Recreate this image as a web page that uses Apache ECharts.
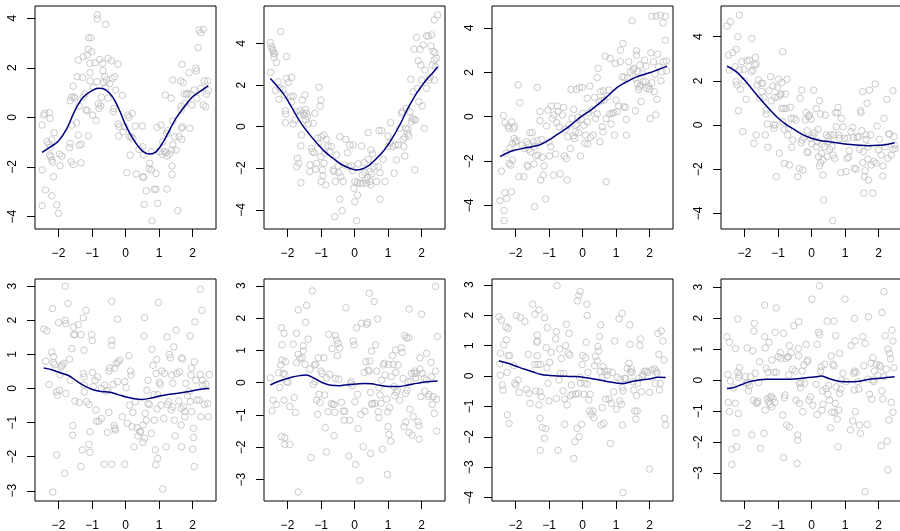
<!DOCTYPE html>
<html>
<head>
<meta charset="utf-8">
<script src="https://cdn.jsdelivr.net/npm/echarts@6/dist/echarts.min.js"></script>
<style>
html, body { margin: 0; padding: 0; background: #fff; }
#main { width: 900px; height: 531px; }
</style>
</head>
<body>
<div id="main"></div>
<script>
// observed points, one array per panel, [x, y]
var pts1 = [[-2.49,-0.31],[-2.44,0.09],[-2.41,0.16],[-2.27,0.19],[-2.25,-0.04],[-2.49,-2.12],[-2.49,-3.56],[-2.39,-2.93],[-2.34,-0.98],[-2.29,-1.08],[-2.24,-1.21],[-2.26,-1.52],[-2.23,-1.59],[-2.2,-1.72],[-2.17,-1.81],[-2.2,-0.91],[-2.15,-2.39],[-2.2,-3.16],[-2.05,-3.53],[-2.0,-3.87],[-2.13,-0.62],[-1.97,-1.48],[-1.95,-1.95],[-1.9,-1.56],
  [-1.65,0.67],[-1.61,0.81],[-1.56,1.26],[-1.54,0.83],[-1.51,0.77],[-1.6,-0.31],[-1.65,-1.05],[-1.67,-1.22],[-1.62,-1.79],[-1.56,-1.9],[-1.44,1.64],[-1.41,2.31],[-1.39,0.46],[-1.46,-0.22],[-1.41,-0.71],[-1.38,-1.12],[-1.31,-1.08],[-1.33,-1.83],[-1.26,2.45],[-1.28,1.61],[-1.26,0.83],[-1.21,0.94],[-1.18,0.3],[-1.14,0.27],[-1.11,-0.75],[-1.14,2.51],[-1.11,2.74],[-1.1,3.21],[-1.03,3.21],[-1.06,1.8],[-1.06,1.47],[-1.01,2.65],[-1.06,2.18],[-0.98,0.09],[-0.96,1.21],[-0.88,-0.13],[-0.91,2.2],[-0.84,4.13],[-0.84,3.97],[-0.85,1.44],[-0.81,0.54],[-0.77,2.34],[-0.79,0.36],[-0.74,0.46],[-0.72,0.81],[-0.68,2.18],[-0.67,1.88],[-0.65,1.4],[-0.62,1.64],[-0.59,3.75],[-0.59,1.21],[-0.57,1.51],[-0.52,2.38],[-0.52,0.77],[-0.47,1.37],[-0.42,2.28],[-0.39,1.57],[-0.37,0.23],[-0.35,0.36],[-0.32,1.64],[-0.29,1.1],[-0.22,2.15],[-0.22,-0.27],[-0.19,-0.38],[-0.2,-0.75],[-0.09,0.89],[-0.07,-0.58],[-0.02,-0.38],
  [0.04,-2.23],[0.07,0.09],[0.1,0],[0.12,-0.78],[0.14,-1.52],[0.17,-0.78],[0.2,0.16],[0.22,-0.85],[0.29,-0.35],[0.32,-2.28],[0.4,-1.29],[0.5,-0.35],[0.51,-1.18],[0.54,-1.52],[0.52,-2.39],[0.54,-2.42],[0.56,-3.51],[0.62,-2.96],[0.7,-2.06],[0.72,-1.85],[0.77,-2.12],[0.77,-1.38],[0.79,-4.17],[0.86,-2.9],[0.91,-2.9],[0.91,-2.26],[0.94,-0.4],[0.96,-3.47],[1.01,-1.38],[1.06,-0.31],[1.09,-1.48],[1.11,-0.98],[1.16,-1.38],[1.19,0.9],[1.21,-1.42],[1.24,-1.56],[1.23,-0.65],[1.25,-0.54],[1.24,-2.89],[1.31,-1.48],[1.36,0.77],[1.38,-1.32],[1.39,-1.96],[1.39,-2.3],[1.41,1.51],[1.41,-0.15],[1.41,-1.09],[1.46,-0.78],[1.51,-1.32],[1.56,-3.76],[1.6,-0.78],[1.65,1.47],[1.66,0.3],[1.66,0.46],[1.67,-0.44],[1.68,-0.89],[1.69,2.14],[1.7,-0.38],[1.72,1.4],[1.75,0.94],[1.77,0.56],[1.82,0.93],[1.86,0.97],[1.9,1.8],[1.92,-0.44],[1.95,0.93],[1.98,0.5],[2.05,1.1],[2.1,1.98],[2.12,1.88],[2.13,0.77],[2.17,2.81],[2.2,3.52],[2.25,3.41],[2.32,3.55],[2.25,1.17],[2.32,0.5],[2.35,1.47],[2.39,0.43],[2.42,0.94],[2.45,1.47],[2.47,1.08]];
var pts2 = [[-2.51,4.04],[-2.48,3.85],[-2.45,3.72],[-2.43,3.65],[-2.41,3.53],[-2.4,3.33],[-2.38,3.49],[-2.5,2.61],[-2.33,3.08],[-2.2,4.57],[-2.03,3.37],[-2.28,2.16],[-2.25,1.31],[-2.36,1.73],[-2.23,1.84],[-2.13,1.79],[-2.08,1.52],[-2.06,0.77],[-2.05,0.61],[-2.06,0.19],[-2.03,2.32],[-1.98,2.12],[-1.88,2.37],[-1.9,1.44],[-1.83,1.47],[-1.88,1.2],[-1.83,0.13],[-1.78,0.32],[-1.73,0.72],[-1.7,-1.52],[-1.73,-1.92],[-1.66,-1.76],[-1.63,0.56],[-1.63,0.77],[-1.6,-0.93],[-1.6,-2.69],[-1.58,-0.4],[-1.56,1.28],[-1.53,0.67],[-1.51,0.56],[-1.48,1.52],[-1.46,0.83],[-1.43,0.64],[-1.45,0.32],[-1.4,0.48],[-1.38,0.13],[-1.33,-1.84],[-1.33,-2.16],[-1.28,-1.04],[-1.26,-1.2],[-1.23,0.16],[-1.2,-1.25],[-1.18,0.64],[-1.16,-2.05],[-1.13,-1.76],[-1.1,-0.56],[-1.08,-0.8],[-1.06,1.89],[-1.03,0.99],[-1.0,1.28],[-1.0,-1.44],[-0.99,-2.64],[-0.99,-0.48],[-0.96,-2.08],[-0.94,-2.37],[-0.91,-0.4],[-0.91,-1.76],[-0.89,-1.28],[-0.86,-2.8],[-0.84,-0.61],[-0.79,-0.93],[-0.74,-1.2],[-0.69,-0.96],[-0.64,-2.08],[-0.61,-2.16],[-0.59,-4.33],[-0.57,-2.64],[-0.54,-1.36],[-0.49,-1.89],[-0.47,-2.21],[-0.44,-0.48],[-0.44,-3.49],[-0.41,-2.4],[-0.37,-4.04],[-0.34,-2.64],[-0.31,-1.84],[-0.26,-0.61],[-0.21,-1.25],[-0.17,-1.92],[-0.14,-0.88],[-0.09,-1.89],[-0.06,-2.12],[-0.04,-0.88],[-0.02,-2.96],
  [0.01,-2.64],[0.01,-3.61],[0.06,-4.52],[0.09,-3.29],[0.09,-2.69],[0.11,-1.79],[0.16,-2.72],[0.21,-0.93],[0.23,-2.32],[0.24,-2.72],[0.29,-1.73],[0.31,-2.21],[0.33,-2.56],[0.36,-2.72],[0.39,-2.44],[0.41,-0.29],[0.41,-1.57],[0.44,-2.16],[0.46,-2.64],[0.49,-1.12],[0.51,-2.28],[0.49,-2.8],[0.54,-1.31],[0.58,-1.92],[0.66,-2.64],[0.71,-1.92],[0.73,-0.19],[0.76,-2.21],[0.76,-3.49],[0.81,-0.19],[0.86,-1.57],[0.91,-2.64],[1.0,-0.45],[1.0,-0.96],[1.05,-0.77],[1.08,0.19],[1.15,-0.96],[1.18,-2.24],[1.22,-0.88],[1.25,-1.6],[1.3,-0.88],[1.35,-0.08],[1.4,0.64],[1.43,0.72],[1.45,-0.61],[1.47,-0.96],[1.5,-0.51],[1.5,-1.41],[1.53,-0.08],[1.55,0.88],[1.58,-0.32],[1.6,-0.13],[1.62,-0.45],[1.65,0.72],[1.68,2.28],[1.7,0.24],[1.72,0.4],[1.75,1.68],[1.77,0.35],[1.78,3.72],[1.8,-2.08],[1.82,0.32],[1.85,4.29],[1.88,1.84],[1.9,3.17],[1.92,1.2],[1.95,3.72],[1.98,2.96],[2.0,2.24],[2.02,0.99],[2.05,3.93],[2.08,-0.08],[2.1,2.72],[2.15,1.84],[2.15,4.36],[2.2,4.36],[2.22,2.24],[2.25,2.37],[2.28,3.88],[2.3,4.41],[2.32,2.96],[2.35,3.61],[2.38,2.24],[2.38,3.2],[2.4,3.56],[2.42,2.88],[2.45,3.29],[2.38,5.13],[2.48,5.37]];
var pts3 = [[-2.46,-3.78],[-2.42,-2.45],[-2.36,0.05],[-2.34,-4.68],[-2.34,-4.23],[-2.32,-3.42],[-2.31,-0.27],[-2.29,-1.65],[-2.26,-3.68],[-2.22,-0.42],[-2.19,-0.53],[-2.19,-2.1],[-2.16,-1.4],[-2.14,-2.18],[-2.12,-3.38],[-2.11,-0.23],[-2.09,-1.95],[-2.09,-1.2],[-2.06,-0.53],[-2.04,-0.98],[-2.02,-0.45],[-2.0,-1.13],[-1.96,-1.08],[-1.92,1.43],[-1.9,-2.7],[-1.87,0.63],[-1.8,-1.28],[-1.75,-2.7],[-1.73,-1.43],[-1.67,-1.13],[-1.65,-2.18],[-1.63,-2.25],[-1.6,-1.23],[-1.6,-1.47],[-1.57,-0.72],[-1.55,-1.58],[-1.5,-0.72],[-1.47,-1.13],[-1.45,-1.35],[-1.45,-2.13],[-1.43,-4.05],[-1.4,-1.77],[-1.35,1.32],[-1.35,-1.08],[-1.33,-1.73],[-1.27,0.23],[-1.27,-0.18],[-1.25,-2.85],[-1.23,-1.02],[-1.2,-1.83],[-1.17,-2.63],[-1.15,-2.22],[-1.1,-3.71],[-1.07,-0.42],[-1.03,0.3],[-1.0,-1.13],[-0.98,-1.77],[-0.95,-1.35],[-0.93,0.48],[-0.9,-0.08],[-0.87,-2.63],[-0.85,0.08],[-0.8,-1.68],[-0.77,-0.27],[-0.75,0.48],[-0.73,0.23],[-0.7,-0.45],[-0.67,-2.58],[-0.6,0.08],[-0.56,0.42],[-0.54,-1.77],[-0.51,-0.57],[-0.48,-1.88],[-0.46,-2.85],[-0.44,-0.9],[-0.41,-0.38],[-0.36,-1.43],[-0.34,1.23],[-0.31,-0.08],[-0.28,-0.87],[-0.26,0.33],[-0.24,-0.98],[-0.21,-0.38],[-0.21,-0.68],[-0.18,1.23],[-0.16,-0.33],[-0.14,-0.03],[-0.11,-0.72],[-0.09,1.32],[-0.06,-1.77],[-0.04,-0.12],[-0.01,1.32],
  [0.01,0.15],[0.04,-0.38],[0.07,-1.2],[0.09,-0.83],[0.14,-0.23],[0.16,-1.23],[0.19,0.18],[0.22,1.38],[0.14,0.83],[0.24,-0.93],[0.29,0.3],[0.32,-0.83],[0.36,0.87],[0.39,-0.08],[0.44,1.77],[0.44,0.12],[0.47,2.18],[0.49,0.68],[0.52,-1.13],[0.54,1.13],[0.57,0.72],[0.59,-0.45],[0.61,-0.68],[0.62,1.17],[0.65,0.75],[0.68,2.73],[0.7,-0.08],[0.71,-2.93],[0.75,0.9],[0.78,1.2],[0.81,0.12],[0.83,2.63],[0.85,-0.33],[0.88,0.15],[0.93,0.18],[0.95,-0.83],[0.98,2.4],[1.0,0.75],[1.03,0.23],[1.08,0.48],[1.13,2.48],[1.13,3.0],[1.18,1.8],[1.21,3.3],[1.23,0.45],[1.25,1.77],[1.28,0.42],[1.31,-0.83],[1.31,-0.12],[1.35,1.73],[1.38,2.48],[1.43,2.03],[1.48,4.32],[1.51,2.1],[1.53,2.18],[1.58,1.73],[1.58,0.27],[1.61,2.78],[1.61,2.97],[1.63,1.5],[1.65,2.03],[1.68,1.23],[1.7,1.35],[1.71,2.33],[1.73,1.43],[1.75,0.68],[1.78,1.95],[1.81,1.58],[1.85,2.55],[1.88,1.58],[1.9,2.28],[1.92,1.28],[1.97,1.38],[2.0,1.23],[2.02,-0.08],[2.04,2.88],[2.07,4.53],[2.07,1.53],[2.12,2.48],[2.14,1.13],[2.16,1.92],[2.19,0.08],[2.2,4.53],[2.22,0.78],[2.24,2.82],[2.27,2.25],[2.32,4.58],[2.34,1.62],[2.37,2.03],[2.4,4.23],[2.42,2.48],[2.47,4.53],[2.47,3.45],[2.5,2.07],[2.5,2.51]];
var pts4 = [[-2.52,4.48],[-2.42,4.68],[-2.15,4.98],[-2.48,3.17],[-2.45,2.49],[-2.35,3.28],[-2.25,3.43],[-2.2,4.0],[-2.28,2.64],[-2.25,1.96],[-2.22,1.81],[-2.18,0.65],[-2.15,2.49],[-2.12,1.62],[-2.08,2.87],[-2.05,-0.3],[-2.02,2.52],[-2.0,1.99],[-1.95,1.16],[-1.92,2.9],[-1.85,2.94],[-1.8,2.42],[-1.78,3.92],[-1.75,2.49],[-1.72,-0.83],[-1.7,2.72],[-1.67,3.06],[-1.65,2.76],[-1.65,-0.45],[-1.62,1.81],[-1.58,2.04],[-1.55,1.21],[-1.5,1.89],[-1.48,1.51],[-1.45,1.89],[-1.42,1.25],[-1.38,-0.45],[-1.35,0.68],[-1.35,0.5],[-1.32,0.05],[-1.3,-1.01],[-1.27,1.55],[-1.22,2.19],[-1.2,1.1],[-1.15,1.77],[-1.13,0.0],[-1.12,-0.15],[-1.1,1.25],[-1.08,0.0],[-1.05,-2.34],[-1.02,1.71],[-1.0,1.28],[-0.98,2.07],[-0.96,-1.28],[-0.93,1.36],[-0.91,1.4],[-0.89,1.92],[-0.89,0.75],[-0.86,3.32],[-0.86,0.15],[-0.83,0.75],[-0.81,-1.74],[-0.81,-0.2],[-0.78,1.4],[-0.76,0.75],[-0.73,2.07],[-0.71,-0.45],[-0.69,-0.15],[-0.66,-1.81],[-0.63,0.8],[-0.61,0.3],[-0.59,-1.01],[-0.56,-0.68],[-0.53,0.3],[-0.46,0.23],[-0.41,-2.34],[-0.36,-1.96],[-0.34,1.21],[-0.31,-0.8],[-0.29,1.58],[-0.28,-0.68],[-0.26,-2.04],[-0.23,-0.56],[-0.19,0.23],[-0.16,0.56],[-0.13,-0.26],[-0.13,-1.21],[-0.11,-1.25],[-0.09,0.38],[-0.06,0.45],[-0.03,-0.6],[-0.01,0.26],
  [0.01,-0.86],[0.04,-0.5],[0.07,1.58],[0.09,-0.35],[0.14,0.75],[0.14,-0.98],[0.17,-0.75],[0.19,-0.2],[0.21,-1.43],[0.24,1.1],[0.24,-1.86],[0.27,0.5],[0.27,-1.71],[0.29,-1.28],[0.31,-0.86],[0.34,-2.26],[0.34,-1.58],[0.36,-3.4],[0.39,-0.98],[0.41,0.45],[0.44,-0.45],[0.47,-1.43],[0.49,-0.56],[0.51,-0.75],[0.54,-1.1],[0.57,-0.45],[0.61,-0.98],[0.63,-4.33],[0.64,-1.36],[0.67,-0.45],[0.69,-1.51],[0.71,0.56],[0.74,-0.08],[0.77,0.56],[0.79,0.8],[0.81,-0.45],[0.84,-0.6],[0.87,-2.16],[0.89,0.3],[0.94,-0.08],[0.99,-0.6],[1.03,-2.11],[1.06,-1.51],[1.08,-0.6],[1.11,-1.46],[1.13,-1.16],[1.18,-0.3],[1.23,-0.11],[1.26,-0.56],[1.28,-1.96],[1.33,-2.01],[1.36,-0.56],[1.4,-0.53],[1.43,-1.1],[1.46,0.65],[1.48,0.56],[1.5,-0.26],[1.53,-1.71],[1.53,1.51],[1.55,-1.21],[1.56,-3.09],[1.58,-2.34],[1.6,-2.07],[1.63,-0.45],[1.63,-0.65],[1.66,0.98],[1.68,-0.98],[1.68,-1.55],[1.7,-2.49],[1.73,1.58],[1.76,-0.45],[1.78,-1.81],[1.83,-3.09],[1.86,-1.66],[1.9,1.86],[1.93,-1.74],[1.96,-0.05],[2.0,-1.13],[2.03,-0.65],[2.08,-1.36],[2.13,-1.86],[2.13,-2.31],[2.16,0.3],[2.2,-0.99],[2.25,1.16],[2.28,-1.51],[2.3,-0.41],[2.33,-0.41],[2.38,-1.36],[2.43,1.55],[2.43,-1.1],[2.46,-0.53],[2.48,-0.9],[2.5,-1.06]];
var pts5 = [[-2.44,1.74],[-2.35,1.69],[-2.38,0.8],[-2.28,0.12],[-2.2,1.07],[-2.18,2.34],[-2.15,0.93],[-2.15,0.76],[-2.17,-3.04],[-2.11,0.7],[-2.06,-1.95],[-2.06,-0.1],[-2.03,-0.2],[-2.0,1.93],[-1.98,-0.05],[-1.95,0.41],[-1.92,0.63],[-1.9,0.68],[-1.85,0.73],[-1.82,-2.49],[-1.8,3.0],[-1.78,-0.15],[-1.8,2.0],[-1.78,1.9],[-1.72,2.49],[-1.67,0.86],[-1.65,0.24],[-1.6,1.17],[-1.58,-1.37],[-1.57,-1.09],[-1.55,1.8],[-1.55,1.58],[-1.51,1.58],[-1.51,-0.37],[-1.41,1.87],[-1.38,-0.41],[-1.33,1.58],[-1.33,-2.29],[-1.29,-1.8],[-1.26,2.07],[-1.26,0.44],[-1.24,1.12],[-1.23,0.34],[-1.23,0.1],[-1.23,-0.1],[-1.18,2.29],[-1.16,-0.39],[-1.09,-0.47],[-1.09,-1.64],[-1.06,-1.27],[-1.06,-1.87],[-1.01,1.58],[-0.99,1.41],[-0.99,0.47],[-0.96,0.05],[-0.91,0.24],[-0.88,-0.63],[-0.86,-0.96],[-0.83,0.34],[-0.79,-0.96],[-0.72,-0.88],[-0.72,0.0],[-0.64,-2.22],[-0.62,0.1],[-0.57,-0.08],[-0.54,-1.29],[-0.52,-0.05],[-0.5,-0.7],[-0.49,0.51],[-0.47,0.6],[-0.41,2.56],[-0.41,1.41],[-0.41,1.27],[-0.41,-2.22],[-0.37,0.12],[-0.34,-1.09],[-0.32,0.59],[-0.32,-1.17],[-0.3,-1.22],[-0.27,0.73],[-0.24,2.03],[-0.24,0.2],[-0.22,0.78],[-0.17,0.83],[-0.1,-0.83],[-0.02,-2.22],[-0.02,0.2],
  [0.02,0.02],[0.05,-1.02],[0.1,0.96],[0.12,-0.49],[0.15,0.51],[0.17,0.39],[0.19,-1.12],[0.22,-0.7],[0.25,-1.71],[0.29,-0.39],[0.35,-1.15],[0.37,-1.39],[0.42,-1.27],[0.45,-1.27],[0.52,-1.58],[0.52,-1.07],[0.55,1.54],[0.57,2.08],[0.57,-1.46],[0.59,-0.73],[0.62,-0.93],[0.64,-0.05],[0.67,-0.44],[0.67,0.24],[0.71,-0.47],[0.77,-1.32],[0.79,1.15],[0.82,0.68],[0.85,-0.18],[0.86,-0.93],[0.89,-1.8],[0.9,-2.24],[0.91,0.44],[0.93,0.85],[0.94,-0.6],[0.96,-2.05],[0.96,-0.18],[0.98,2.52],[1.01,0.18],[1.04,0.12],[1.06,-0.49],[1.08,0.51],[1.11,-2.95],[1.14,-0.88],[1.16,0.44],[1.21,-1.71],[1.24,1.51],[1.26,-0.47],[1.29,-0.39],[1.31,1.0],[1.34,0.9],[1.36,-0.63],[1.38,0.39],[1.41,0.15],[1.41,-0.54],[1.44,1.22],[1.46,-0.93],[1.48,-1.39],[1.51,1.71],[1.53,0.44],[1.59,-0.37],[1.61,0.49],[1.66,-0.59],[1.66,-1.07],[1.67,0.9],[1.67,-1.71],[1.7,0.86],[1.73,-0.54],[1.77,-0.68],[1.77,-0.83],[1.8,0.15],[1.85,-0.21],[1.9,-0.08],[1.93,1.54],[1.93,-0.39],[1.95,0.39],[1.97,0.6],[1.98,-0.68],[2.0,-1.78],[2.03,-1.44],[2.03,-1.17],[2.05,0.78],[2.05,-2.29],[2.07,1.95],[2.1,0.24],[2.13,-0.34],[2.2,-0.34],[2.23,2.91],[2.23,0.41],[2.25,-0.83],[2.28,2.29],[2.3,0.1],[2.3,0.24],[2.35,-0.47],[2.4,0.12],[2.45,-0.44],[2.47,-0.83],[2.5,0.41]];
var pts6 = [[-2.51,0.15],[-2.46,-0.87],[-2.43,-0.54],[-2.33,-0.67],[-2.26,0.31],[-2.23,-0.15],[-2.2,0.55],[-2.18,1.7],[-2.18,-1.67],[-2.16,1.17],[-2.16,0.7],[-2.13,0.29],[-2.1,1.53],[-2.1,-0.54],[-2.08,0.26],[-2.08,-1.7],[-2.06,0.65],[-2.08,-1.91],[-2.03,0.03],[-1.98,0.01],[-1.93,-1.91],[-1.93,-0.74],[-1.83,1.19],[-1.8,-0.46],[-1.76,-0.92],[-1.73,1.53],[-1.73,0.62],[-1.68,2.25],[-1.68,0.88],[-1.68,-3.38],[-1.63,0.75],[-1.56,0.77],[-1.53,1.14],[-1.53,0.98],[-1.48,0.57],[-1.46,1.87],[-1.43,2.39],[-1.38,1.35],[-1.33,0.42],[-1.3,-2.32],[-1.26,2.84],[-1.23,-0.05],[-1.2,0.55],[-1.18,0.03],[-1.16,0.57],[-1.13,-0.54],[-1.1,-0.98],[-1.08,0.77],[-1.06,-0.36],[-1.03,-0.61],[-1.0,0.36],[-0.97,0.29],[-0.91,0.77],[-0.89,-0.38],[-0.87,-1.39],[-0.84,0.15],[-0.84,-2.14],[-0.79,-0.9],[-0.77,1.5],[-0.74,0.26],[-0.69,-0.64],[-0.67,1.06],[-0.64,-0.67],[-0.61,-0.67],[-0.61,-1.64],[-0.59,-0.92],[-0.57,1.46],[-0.57,0.13],[-0.54,1.32],[-0.51,0.84],[-0.49,1.22],[-0.47,0.11],[-0.44,1.08],[-0.39,-0.61],[-0.34,-0.88],[-0.31,-1.16],[-0.29,-0.88],[-0.26,2.32],[-0.17,-2.27],[-0.14,-1.16],[-0.12,-0.02],[-0.09,0.03],[-0.07,-0.09],[-0.04,1.29],[-0.01,1.17],
  [0.01,-0.59],[0.03,-2.53],[0.06,1.7],[0.09,-0.36],[0.11,-1.42],[0.16,-3.02],[0.19,-0.98],[0.21,1.84],[0.26,-1.98],[0.29,0.32],[0.31,-0.88],[0.34,0.65],[0.36,1.81],[0.39,1.87],[0.41,0.39],[0.43,0.36],[0.44,2.77],[0.46,0.67],[0.48,-2.19],[0.48,-0.3],[0.51,0.98],[0.51,-0.67],[0.54,-0.64],[0.59,2.51],[0.61,-0.64],[0.63,1.17],[0.66,0.36],[0.69,1.97],[0.71,-0.9],[0.73,-0.15],[0.73,-1.08],[0.76,-0.38],[0.79,-0.64],[0.81,0.08],[0.83,-2.06],[0.86,0.55],[0.89,0.6],[0.91,0.24],[0.96,-0.51],[0.98,-2.84],[0.99,-0.9],[1.0,-1.36],[1.02,0.57],[1.03,-1.6],[1.05,-0.77],[1.08,-1.81],[1.1,0.19],[1.13,0.84],[1.15,0.57],[1.18,-0.12],[1.2,-0.4],[1.22,1.01],[1.23,0.32],[1.25,-0.3],[1.28,-0.23],[1.3,0.55],[1.35,-0.54],[1.4,1.08],[1.42,0.94],[1.45,0.13],[1.48,-1.36],[1.5,1.46],[1.52,-0.33],[1.53,-1.21],[1.55,1.39],[1.57,-0.23],[1.6,0.03],[1.62,1.39],[1.63,2.28],[1.63,-1.54],[1.65,-0.82],[1.68,0.05],[1.7,0.29],[1.72,-1.62],[1.75,-1.05],[1.78,0.29],[1.8,0.36],[1.82,0.15],[1.85,0.29],[1.9,-1.21],[1.92,-1.33],[1.93,-1.75],[1.95,0.77],[1.95,0.42],[1.98,-0.43],[2.0,2.12],[2.02,0.29],[2.08,0.13],[2.1,-0.26],[2.15,0.91],[2.15,0.08],[2.2,-0.43],[2.22,-0.36],[2.28,0.63],[2.3,0.19],[2.32,-0.67],[2.35,-0.43],[2.38,-0.95],[2.42,0.36],[2.45,-0.51],[2.45,-1.5],[2.47,1.43],[2.42,2.98]];
var pts7 = [[-2.49,1.95],[-2.47,0.4],[-2.45,0.75],[-2.45,0.03],[-2.42,1.84],[-2.39,-0.3],[-2.37,-0.46],[-2.35,1.02],[-2.29,1.62],[-2.27,1.19],[-2.25,0.12],[-2.24,-1.28],[-2.22,1.57],[-2.22,0.67],[-2.19,-1.56],[-2.17,0.67],[-2.05,0.34],[-2.02,-0.24],[-1.99,-0.3],[-1.97,1.99],[-1.92,-0.13],[-1.89,-0.54],[-1.85,1.93],[-1.72,1.79],[-1.67,-0.44],[-1.62,0.71],[-1.6,-0.57],[-1.57,-0.9],[-1.49,2.36],[-1.42,0.38],[-1.42,2.03],[-1.39,-0.49],[-1.37,1.11],[-1.35,0.67],[-1.35,1.35],[-1.34,1.15],[-1.33,0.38],[-1.3,2.17],[-1.3,-0.95],[-1.27,-0.52],[-1.27,-1.39],[-1.26,0.38],[-1.26,-2.44],[-1.23,-0.68],[-1.2,-1.7],[-1.14,-2.05],[-1.13,1.92],[-1.1,-1.73],[-1.08,0.93],[-1.06,0.27],[-1.05,1.59],[-1.03,-0.24],[-1.0,-0.82],[-0.98,0.45],[-0.93,0.78],[-0.8,1.22],[-0.78,1.46],[-0.78,-0.74],[-0.76,2.97],[-0.73,-2.44],[-0.7,-0.13],[-0.68,0.89],[-0.66,0.09],[-0.63,0.58],[-0.58,-0.49],[-0.56,0.09],[-0.53,-1.59],[-0.53,-0.76],[-0.5,1.0],[-0.48,1.7],[-0.46,-0.95],[-0.43,0.75],[-0.4,1.4],[-0.38,0.69],[-0.36,-0.65],[-0.33,-0.3],[-0.3,-0.6],[-0.26,-2.71],[-0.23,-2.16],[-0.2,-0.6],[-0.16,-1.72],[-0.15,2.47],[-0.13,-0.57],[-0.11,2.65],[-0.1,-2.0],[-0.08,-0.05],[-0.07,2.78],[-0.06,-0.24],[-0.03,-1.59],[-0.01,0.38],
  [0.01,0.67],[0.04,-0.6],[0.06,-0.24],[0.09,0.6],[0.11,1.11],[0.13,2.36],[0.14,1.99],[0.14,-0.27],[0.16,0.12],[0.19,-0.79],[0.21,-1.15],[0.23,-0.6],[0.26,-1.26],[0.31,-1.15],[0.34,-1.37],[0.36,0.34],[0.39,0.64],[0.44,0.49],[0.46,0.97],[0.48,0.82],[0.51,1.3],[0.53,0.16],[0.54,1.68],[0.56,-1.61],[0.58,-0.05],[0.59,-1.04],[0.61,0.31],[0.63,-1.56],[0.66,0.16],[0.69,-0.76],[0.73,0.03],[0.76,0.16],[0.79,-0.76],[0.83,-2.22],[0.86,-0.9],[0.89,0.12],[0.93,-0.52],[0.96,1.15],[1.01,-1.09],[1.04,-0.05],[1.09,1.88],[1.11,-0.82],[1.13,-0.1],[1.16,-0.93],[1.18,2.06],[1.19,-0.38],[1.19,-1.61],[1.21,-0.49],[1.21,-3.83],[1.26,-0.08],[1.29,-0.08],[1.34,0.25],[1.39,0.42],[1.41,1.68],[1.42,1.04],[1.43,0.14],[1.46,0.23],[1.48,0.12],[1.51,-0.19],[1.53,-0.46],[1.56,-1.15],[1.59,-1.42],[1.61,-0.65],[1.63,-1.15],[1.65,-0.24],[1.68,-0.08],[1.71,1.0],[1.73,1.22],[1.76,-0.52],[1.78,-0.02],[1.8,0.05],[1.85,0.16],[1.9,0.16],[1.95,0.12],[2.0,-0.54],[2.0,-3.06],[2.08,0.2],[2.15,0.23],[2.17,-0.24],[2.2,0.16],[2.22,0.09],[2.25,1.4],[2.28,0.71],[2.3,-0.46],[2.32,-0.24],[2.35,1.48],[2.4,1.15],[2.43,0.53],[2.45,-1.39],[2.48,-1.61]];
var pts8 = [[-2.52,1.4],[-2.5,0.18],[-2.48,-0.72],[-2.45,1.22],[-2.42,-0.03],[-2.45,-1.02],[-2.38,-2.72],[-2.38,-2.23],[-2.32,-0.25],[-2.27,1.02],[-2.27,-0.75],[-2.23,-2.15],[-2.25,-1.7],[-2.2,0.25],[-2.2,1.97],[-2.18,-1.08],[-2.17,0.08],[-2.15,0.4],[-2.15,0.16],[-1.98,0.11],[-1.95,-0.11],[-1.92,1.04],[-1.9,-0.08],[-1.88,-0.35],[-1.85,-0.18],[-1.82,0.11],[-1.78,-1.77],[-1.75,0.94],[-1.73,-0.65],[-1.72,1.58],[-1.7,1.83],[-1.68,0.22],[-1.65,-0.72],[-1.62,-0.75],[-1.6,-0.68],[-1.58,-0.08],[-1.55,0.59],[-1.52,-2.2],[-1.42,-1.72],[-1.4,1.4],[-1.4,2.42],[-1.38,1.04],[-1.38,-0.97],[-1.35,0.38],[-1.32,-0.61],[-1.3,0.25],[-1.28,-0.7],[-1.27,1.22],[-1.25,-0.57],[-1.23,-0.78],[-1.2,-0.52],[-1.18,0.65],[-1.18,-0.86],[-1.15,-0.59],[-1.12,0.25],[-1.1,-0.72],[-1.08,1.54],[-1.05,0.25],[-1.05,2.33],[-0.99,0.75],[-0.93,0.89],[-0.91,0.7],[-0.86,-1.13],[-0.83,1.51],[-0.83,-2.5],[-0.81,-0.57],[-0.79,-0.48],[-0.76,0.7],[-0.74,-1.45],[-0.71,0.75],[-0.69,0.75],[-0.68,0.16],[-0.66,-1.51],[-0.66,1.11],[-0.61,0.89],[-0.56,0.35],[-0.53,1.75],[-0.49,0.29],[-0.46,-0.65],[-0.43,-2.69],[-0.41,-1.77],[-0.41,-1.94],[-0.39,1.02],[-0.39,0.78],[-0.38,1.88],[-0.36,-0.11],[-0.36,-0.75],[-0.33,-0.25],[-0.31,-0.08],[-0.28,0.29],[-0.26,-1.02],[-0.23,0.48],[-0.21,-0.11],[-0.16,1.15],[-0.13,0.59],[-0.11,0.65],[-0.08,-0.65],[-0.03,-0.54],
  [0.01,2.61],[0.04,-0.81],[0.14,-0.14],[0.17,1.15],[0.17,-1.11],[0.21,1.54],[0.24,3.04],[0.24,1.47],[0.27,0.29],[0.29,0.43],[0.31,-0.97],[0.32,-0.35],[0.34,-0.78],[0.39,0.51],[0.44,-0.27],[0.47,1.9],[0.49,-0.46],[0.51,-0.18],[0.54,-0.65],[0.57,-1.54],[0.59,0.78],[0.61,-1.04],[0.64,0.51],[0.67,1.9],[0.67,0.46],[0.69,-1.04],[0.71,-0.75],[0.72,1.43],[0.74,-0.22],[0.77,-1.26],[0.79,-2.15],[0.81,-0.97],[0.84,0.86],[0.84,-0.43],[0.87,-0.29],[0.89,0.0],[0.94,0.22],[1.0,2.61],[1.03,-0.05],[1.16,-1.61],[1.18,1.11],[1.23,-1.32],[1.26,0.22],[1.28,0.29],[1.28,-0.32],[1.28,1.99],[1.3,1.26],[1.31,-1.02],[1.33,0.25],[1.38,-0.05],[1.41,-0.29],[1.43,-1.45],[1.46,-1.72],[1.53,1.4],[1.56,0.46],[1.6,1.18],[1.6,-3.6],[1.66,-1.43],[1.68,0.03],[1.7,2.04],[1.73,-0.46],[1.78,0.54],[1.8,-0.61],[1.83,0.0],[1.83,0.72],[1.86,-0.05],[1.88,0.29],[1.93,0.51],[1.98,0.16],[2.03,0.48],[2.06,0.43],[2.08,-2.12],[2.1,2.18],[2.1,-0.35],[2.13,-0.61],[2.16,0.11],[2.16,2.85],[2.2,1.43],[2.23,0.35],[2.26,-1.97],[2.28,-2.9],[2.28,1.0],[2.31,-1.29],[2.33,0.86],[2.36,0.68],[2.38,-0.72],[2.4,1.61],[2.43,-1.04],[2.43,1.26],[2.46,0.4]];

// smoother curves
var fit1 = [[-2.49,-1.41],[-2.25,-1.2],[-2.0,-0.95],[-1.75,-0.45],[-1.5,0.3],[-1.25,0.83],[-1.0,1.08],[-0.8,1.17],[-0.6,1.12],[-0.4,0.85],[-0.2,0.35],[0.0,-0.3],[0.25,-0.92],[0.5,-1.35],[0.72,-1.48],[0.9,-1.4],[1.1,-1.05],[1.3,-0.55],[1.5,-0.05],[1.75,0.42],[2.0,0.83],[2.25,1.07],[2.47,1.28]];
var fit2 = [[-2.51,2.32],[-2.13,1.6],[-1.88,0.95],[-1.63,0.25],[-1.38,-0.3],[-1.13,-0.78],[-0.89,-1.2],[-0.64,-1.52],[-0.39,-1.82],[-0.14,-2.0],[0.05,-2.08],[0.2,-2.05],[0.4,-1.9],[0.61,-1.6],[0.86,-1.18],[1.1,-0.62],[1.35,0.08],[1.6,0.9],[1.85,1.6],[2.1,2.16],[2.35,2.62],[2.48,2.88]];
var fit3 = [[-2.46,-1.8],[-2.2,-1.6],[-2.0,-1.5],[-1.75,-1.42],[-1.5,-1.35],[-1.25,-1.25],[-1.0,-1.05],[-0.75,-0.8],[-0.5,-0.55],[-0.25,-0.25],[0.0,0.05],[0.25,0.3],[0.5,0.6],[0.75,0.93],[1.0,1.28],[1.25,1.52],[1.5,1.72],[1.75,1.87],[2.0,1.98],[2.25,2.12],[2.52,2.28]];
var fit4 = [[-2.52,2.67],[-2.25,2.42],[-2.0,2.04],[-1.75,1.58],[-1.5,1.13],[-1.25,0.7],[-1.0,0.32],[-0.75,0.02],[-0.5,-0.22],[-0.25,-0.45],[0.0,-0.6],[0.25,-0.7],[0.5,-0.75],[0.75,-0.8],[1.0,-0.86],[1.25,-0.89],[1.5,-0.92],[1.75,-0.94],[2.0,-0.92],[2.25,-0.88],[2.48,-0.8]];
var fit5 = [[-2.44,0.6],[-2.2,0.55],[-1.95,0.46],[-1.7,0.38],[-1.46,0.22],[-1.21,0.07],[-0.96,-0.04],[-0.72,-0.09],[-0.47,-0.11],[-0.22,-0.18],[0.02,-0.25],[0.27,-0.3],[0.5,-0.32],[0.77,-0.28],[1.01,-0.22],[1.26,-0.18],[1.51,-0.15],[1.75,-0.11],[2.0,-0.07],[2.25,-0.02],[2.5,0.0]];
var fit6 = [[-2.51,-0.07],[-2.3,0.03],[-2.1,0.1],[-1.88,0.17],[-1.63,0.22],[-1.45,0.24],[-1.2,0.14],[-0.95,0.0],[-0.7,-0.08],[-0.45,-0.09],[-0.2,-0.06],[0.05,-0.04],[0.3,-0.02],[0.5,-0.03],[0.75,-0.08],[1.0,-0.12],[1.3,-0.12],[1.6,-0.07],[1.85,-0.02],[2.1,0.02],[2.48,0.05]];
var fit7 = [[-2.49,0.49],[-2.22,0.42],[-1.97,0.32],[-1.72,0.22],[-1.47,0.13],[-1.23,0.05],[-0.98,0.02],[-0.73,0.0],[-0.48,-0.01],[-0.23,-0.02],[0.01,-0.04],[0.26,-0.08],[0.51,-0.13],[0.76,-0.19],[1.01,-0.23],[1.21,-0.25],[1.5,-0.17],[1.76,-0.13],[2.0,-0.1],[2.25,-0.04],[2.48,-0.05]];
var fit8 = [[-2.52,-0.27],[-2.35,-0.25],[-2.1,-0.15],[-1.85,-0.05],[-1.6,0.0],[-1.35,0.03],[-1.1,0.03],[-0.86,0.03],[-0.61,0.03],[-0.36,0.05],[-0.11,0.08],[0.14,0.11],[0.29,0.13],[0.49,0.06],[0.74,-0.02],[0.99,-0.05],[1.23,-0.05],[1.48,-0.03],[1.73,0.03],[1.98,0.05],[2.23,0.08],[2.48,0.11]];

var xTicks = [-2, -1, 0, 1, 2];
var yTicksWide = [-4, -2, 0, 2, 4];
var yTicks3 = [-3, -2, -1, 0, 1, 2, 3];
var yTicks4 = [-4, -3, -2, -1, 0, 1, 2, 3];

// axis ranges as R drew them (4% padding)
var panels = [
  { pts: pts1, fit: fit1, ticks: yTicksWide, ymin: -4.50, ymax: 4.49 },
  { pts: pts2, fit: fit2, ticks: yTicksWide, ymin: -4.92, ymax: 5.80 },
  { pts: pts3, fit: fit3, ticks: yTicksWide, ymin: -5.06, ymax: 4.99 },
  { pts: pts4, fit: fit4, ticks: yTicksWide, ymin: -4.71, ymax: 5.39 },
  { pts: pts5, fit: fit5, ticks: yTicks3, ymin: -3.30, ymax: 3.21 },
  { pts: pts6, fit: fit6, ticks: yTicks3, ymin: -3.66, ymax: 3.21 },
  { pts: pts7, fit: fit7, ticks: yTicks4, ymin: -4.11, ymax: 3.19 },
  { pts: pts8, fit: fit8, ticks: yTicks3, ymin: -3.90, ymax: 3.26 }
];

var colLeft = [35, 264, 492, 721];
var rowTop = [6, 279];
var rowHeight = [223, 222];
var fontFam = '"Liberation Sans", Arial, Helvetica, sans-serif';

function minus(v) {
  return String(v).replace('-', '\u2212');
}

var grids = [], xAxes = [], yAxes = [], series = [];
panels.forEach(function (p, i) {
  var r = Math.floor(i / 4), c = i % 4;
  grids.push({
    left: colLeft[c], top: rowTop[r], width: 181, height: rowHeight[r],
    show: true, borderColor: '#000', borderWidth: 1, backgroundColor: 'transparent',
    containLabel: false, outerBoundsMode: 'none'
  });
  xAxes.push({
    type: 'value', gridIndex: i, min: -2.7, max: 2.7,
    axisLine: { show: false, onZero: false },
    splitLine: { show: false },
    axisTick: { show: true, inside: false, length: 8, customValues: xTicks, lineStyle: { color: '#000', width: 1 } },
    axisLabel: { customValues: xTicks, margin: 19, color: '#000', fontSize: 12, fontFamily: fontFam, formatter: minus }
  });
  yAxes.push({
    type: 'value', gridIndex: i, min: p.ymin, max: p.ymax,
    axisLine: { show: false, onZero: false },
    splitLine: { show: false },
    axisTick: { show: true, inside: false, length: 8, customValues: p.ticks, lineStyle: { color: '#000', width: 1 } },
    axisLabel: { customValues: p.ticks, rotate: 90, margin: 16, color: '#000', fontSize: 12, fontFamily: fontFam, formatter: minus }
  });
  series.push({
    type: 'scatter', xAxisIndex: i, yAxisIndex: i, data: p.pts,
    symbol: 'circle', symbolSize: 6.5,
    itemStyle: { color: 'rgba(0,0,0,0)', borderColor: '#bebebe', borderWidth: 1 },
    emphasis: { disabled: true }, z: 2
  });
  series.push({
    type: 'line', xAxisIndex: i, yAxisIndex: i, data: p.fit,
    showSymbol: false, smooth: 0.35,
    lineStyle: { color: '#000080', width: 1.5 },
    emphasis: { disabled: true }, z: 3
  });
});

var chart = echarts.init(document.getElementById('main'), null, { renderer: 'canvas' });
chart.setOption({
  animation: false,
  backgroundColor: '#fff',
  grid: grids,
  xAxis: xAxes,
  yAxis: yAxes,
  series: series
});
</script>
</body>
</html>
